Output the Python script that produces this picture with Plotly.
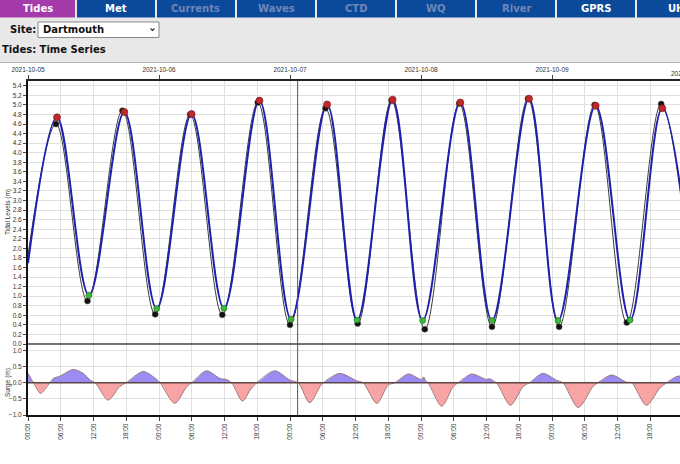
import plotly.graph_objects as go

W, H = 680, 464

# observed tide (blue) - start point, alternating high/low water, point past the edge
obs_time = ["2021-10-05 00:00", "2021-10-05 05:19", "2021-10-05 11:10", "2021-10-05 17:39",
            "2021-10-05 23:34", "2021-10-06 05:58", "2021-10-06 11:54", "2021-10-06 18:24",
            "2021-10-07 00:12", "2021-10-07 06:48", "2021-10-07 12:18", "2021-10-07 18:48",
            "2021-10-08 00:18", "2021-10-08 07:12", "2021-10-08 13:00", "2021-10-08 19:48",
            "2021-10-09 01:06", "2021-10-09 08:00", "2021-10-09 14:18", "2021-10-09 20:12",
            "2021-10-10 02:30"]
obs_level = [1.69, 4.74, 1.02, 4.85, 0.74, 4.81, 0.75, 5.09, 0.52, 5.01, 0.50,
             5.11, 0.49, 5.05, 0.49, 5.13, 0.49, 4.98, 0.50, 4.93, 0.50]

# predicted tide (black)
pred_time = ["2021-10-05 00:00", "2021-10-05 05:08", "2021-10-05 10:54", "2021-10-05 17:18",
             "2021-10-05 23:18", "2021-10-06 05:42", "2021-10-06 11:36", "2021-10-06 18:06",
             "2021-10-07 00:00", "2021-10-07 06:30", "2021-10-07 12:24", "2021-10-07 18:36",
             "2021-10-08 00:42", "2021-10-08 07:00", "2021-10-08 13:00", "2021-10-08 19:36",
             "2021-10-09 01:18", "2021-10-09 07:48", "2021-10-09 13:42", "2021-10-09 20:00",
             "2021-10-10 02:18"]
pred_level = [1.85, 4.60, 0.90, 4.88, 0.62, 4.80, 0.61, 5.05, 0.40, 4.93, 0.43,
              5.09, 0.31, 5.03, 0.36, 5.13, 0.36, 5.00, 0.45, 5.02, 0.40]

# surge (observed - predicted)
surge_time = ["2021-10-05 00:00", "2021-10-05 00:30", "2021-10-05 01:00", "2021-10-05 02:18",
              "2021-10-05 04:00", "2021-10-05 04:36", "2021-10-05 05:54", "2021-10-05 08:18",
              "2021-10-05 10:06", "2021-10-05 11:24", "2021-10-05 12:18", "2021-10-05 14:42",
              "2021-10-05 16:48", "2021-10-05 18:00", "2021-10-05 21:06", "2021-10-05 23:36",
              "2021-10-06 00:12", "2021-10-06 02:54", "2021-10-06 05:06", "2021-10-06 06:00",
              "2021-10-06 08:42", "2021-10-06 11:12", "2021-10-06 12:24", "2021-10-06 13:18",
              "2021-10-06 15:18", "2021-10-06 16:42", "2021-10-06 17:54", "2021-10-06 21:12",
              "2021-10-07 00:00", "2021-10-07 01:30", "2021-10-07 03:36", "2021-10-07 05:30",
              "2021-10-07 06:06", "2021-10-07 09:06", "2021-10-07 12:12", "2021-10-07 13:24",
              "2021-10-07 15:54", "2021-10-07 18:00", "2021-10-07 19:12", "2021-10-07 21:42",
              "2021-10-08 00:06", "2021-10-08 00:30", "2021-10-08 00:48", "2021-10-08 01:18",
              "2021-10-08 03:48", "2021-10-08 05:54", "2021-10-08 06:48", "2021-10-08 09:18",
              "2021-10-08 12:00", "2021-10-08 12:30", "2021-10-08 13:48", "2021-10-08 16:24",
              "2021-10-08 18:42", "2021-10-08 19:54", "2021-10-08 22:18", "2021-10-09 00:48",
              "2021-10-09 02:00", "2021-10-09 04:48", "2021-10-09 07:30", "2021-10-09 08:24",
              "2021-10-09 10:54", "2021-10-09 13:36", "2021-10-09 14:36", "2021-10-09 17:18",
              "2021-10-09 19:42", "2021-10-09 21:00", "2021-10-09 22:48", "2021-10-10 00:00"]
surge_value = [0.29, 0.15, 0.0, -0.33, 0.0, 0.13, 0.21, 0.41, 0.29, 0.08, 0.0, -0.54,
               -0.12, 0.0, 0.35, 0.10, 0.0, -0.64, -0.12, 0.0, 0.37, 0.13, 0.10, 0.0,
               -0.57, -0.23, 0.0, 0.37, 0.08, 0.0, -0.62, -0.12, 0.0, 0.29, 0.06, 0.0,
               -0.64, -0.07, 0.0, 0.27, 0.10, 0.18, 0.08, 0.0, -0.73, -0.12, 0.0, 0.27,
               0.10, 0.12, 0.0, -0.70, -0.12, 0.0, 0.29, 0.08, 0.0, -0.77, -0.12, 0.0,
               0.24, 0.02, 0.0, -0.70, -0.18, 0.0, 0.19, 0.22]

tabs = ["Tides", "Met", "Currents", "Waves", "CTD", "WQ", "River", "GPRS", "UH"]
tab_enabled = [True, True, False, False, False, False, False, True, True]

x_start, x_end = "2021-10-05 00:00", "2021-10-09 23:27"
now_time = "2021-10-07 01:24"


def px_x(p):
    return p / W


def px_y(p):
    return 1 - p / H


def label(x, y, text, font, xanchor="center", angle=0):
    # pixel positioned text, anchors set explicitly so plotly doesn't guess
    return dict(xref="paper", yref="paper", x=px_x(x), y=px_y(y), text=text, showarrow=False,
                xanchor=xanchor, yanchor="middle", textangle=angle, font=font)


AX_FONT = dict(family="Liberation Sans", size=6.5, color="#333")
HEAD = dict(family="DejaVu Sans", size=10, color="#111")

fig = go.Figure()

# surge panel
surge_pos = [max(v, 0) for v in surge_value]
surge_neg = [min(v, 0) for v in surge_value]
fig.add_trace(go.Scatter(x=surge_time, y=surge_pos, xaxis="x2", yaxis="y2", mode="lines",
                         line=dict(width=0, shape="spline", smoothing=0.8),
                         fill="tozeroy", fillcolor="#9b8cf3"))
fig.add_trace(go.Scatter(x=surge_time, y=surge_neg, xaxis="x2", yaxis="y2", mode="lines",
                         line=dict(width=0, shape="spline", smoothing=0.8),
                         fill="tozeroy", fillcolor="#f8a4a4"))
fig.add_trace(go.Scatter(x=surge_time, y=surge_value, xaxis="x2", yaxis="y2", mode="lines",
                         line=dict(width=0.8, color="#8a6464", shape="spline", smoothing=0.8)))

# tide panel
fig.add_trace(go.Scatter(x=pred_time, y=pred_level, mode="lines",
                         line=dict(width=1, color="#3c3c3c", shape="spline", smoothing=1.0)))
fig.add_trace(go.Scatter(x=obs_time, y=obs_level, mode="lines",
                         line=dict(width=2, color="#1f1fb0", shape="spline", smoothing=1.0)))

fig.add_trace(go.Scatter(x=pred_time[1:-1], y=pred_level[1:-1], mode="markers",
                         marker=dict(size=6, color="#111", line=dict(width=0.5, color="#555"))))
fig.add_trace(go.Scatter(x=obs_time[1:-1:2], y=obs_level[1:-1:2], mode="markers",
                         marker=dict(size=7, color="#c0282c", line=dict(width=0.6, color="#6a1010"))))
fig.add_trace(go.Scatter(x=obs_time[2:-1:2], y=obs_level[2:-1:2], mode="markers",
                         marker=dict(size=6, color="#3cb83c", line=dict(width=0.6, color="#1a6a1a"))))

shapes = []
annotations = []

# page background areas
shapes.append(dict(type="rect", xref="paper", yref="paper", x0=0, x1=1, y0=0, y1=px_y(63),
                   fillcolor="white", line_width=0, layer="below"))
shapes.append(dict(type="line", xref="paper", yref="paper", x0=0, x1=1, y0=px_y(62.5), y1=px_y(62.5),
                   line=dict(color="#b4b4b4", width=1.2)))

# tab bar
for i, name in enumerate(tabs):
    left = i * 80 - (3 if i > 0 else 0)
    right = left + 78 if i > 0 else 75
    colour = "#a53aab" if i == 0 else "#0b4a9b"
    shapes.append(dict(type="rect", xref="paper", yref="paper", x0=px_x(left), x1=px_x(right),
                       y0=px_y(17.5), y1=px_y(0), fillcolor=colour, line_width=0))
    tab_font = dict(HEAD, color="white" if tab_enabled[i] else "#6f87b8")
    annotations.append(label((left + right) / 2, 8.5, "<b>%s</b>" % name, tab_font))

# site selector
annotations.append(label(8, 29.5, "<b>Site:</b>", HEAD, xanchor="left"))
shapes.append(dict(type="rect", xref="paper", yref="paper", x0=px_x(38), x1=px_x(159),
                   y0=px_y(37.5), y1=px_y(22), fillcolor="white", line=dict(color="#8a8a8a", width=1)))
annotations.append(label(41, 29.5, "<b>Dartmouth</b>", HEAD, xanchor="left"))
shapes.append(dict(type="path", xref="paper", yref="paper",
                   path="M %f %f L %f %f L %f %f" % (px_x(150.5), px_y(28.5), px_x(152.5), px_y(30.5),
                                                    px_x(154.5), px_y(28.5)),
                   line=dict(color="#333", width=1.2)))

annotations.append(label(0, 49, "<b>Tides: Time Series</b>", HEAD, xanchor="left"))

# chart frame lines
shapes.append(dict(type="line", xref="paper", yref="paper", x0=px_x(28), x1=1, y0=px_y(344), y1=px_y(344),
                   line=dict(color="#444", width=1.3)))
shapes.append(dict(type="line", xref="x2", yref="y2", x0=x_start, x1=x_end, y0=0, y1=0,
                   line=dict(color="#5a4646", width=1.5)))
shapes.append(dict(type="line", xref="x", yref="paper", x0=now_time, x1=now_time,
                   y0=px_y(415), y1=px_y(81), line=dict(color="#555", width=1)))

# label for the next day, mostly off the edge
annotations.append(label(688, 73, "2021-10-10", AX_FONT))

annotations.append(label(8, 212, "Tidal Levels (m)", AX_FONT, angle=-90))
annotations.append(label(8, 383, "Surge (m)", AX_FONT, angle=-90))

tide_ticks = [round(i * 0.2, 1) for i in range(28)]
surge_ticks = [-1.0, -0.5, 0.0, 0.5, 1.0]

fig.update_layout(
    width=W, height=H,
    margin=dict(l=0, r=0, t=0, b=0),
    paper_bgcolor="#e8e8e8",
    plot_bgcolor="white",
    showlegend=False,
    shapes=shapes,
    annotations=annotations,
    xaxis=dict(domain=[px_x(28), 1], anchor="y", side="top", type="date", range=[x_start, x_end],
               dtick=86400000, tick0="2021-10-05", tickformat="%Y-%m-%d", ticks="outside",
               ticklen=4, tickcolor="#444", tickfont=AX_FONT, showline=True, linecolor="#222",
               linewidth=2, showgrid=True, gridcolor="#e0e0e0",
               minor=dict(dtick=21600000, showgrid=True, gridcolor="#e0e0e0"),
               zeroline=False, automargin=False),
    yaxis=dict(domain=[px_y(344), px_y(81)], anchor="x", range=[0, 5.5], tickvals=tide_ticks,
               tickformat=".1f", ticks="outside", ticklen=3, tickcolor="#444", tickfont=AX_FONT,
               showline=True, linecolor="#111", linewidth=2, gridcolor="#e0e0e0", zeroline=False,
               automargin=False),
    xaxis2=dict(domain=[px_x(28), 1], anchor="y2", type="date", range=[x_start, x_end],
                dtick=21600000, tick0="2021-10-05", tickformat="%H:%M", tickangle=-90, ticks="outside",
                ticklen=4, tickcolor="#444", tickfont=AX_FONT, showline=True, linecolor="#111",
                linewidth=2, gridcolor="#e0e0e0", zeroline=False, automargin=False),
    yaxis2=dict(domain=[px_y(415), px_y(344)], anchor="x2", range=[-1.0, 1.2], tickvals=surge_ticks,
                tickformat=".1f", ticks="outside", ticklen=3, tickcolor="#444", tickfont=AX_FONT,
                showline=True, linecolor="#111", linewidth=2, gridcolor="#e0e0e0", zeroline=False,
                automargin=False),
)

fig.write_html("out.html", config={"displayModeBar": False},
               post_script="document.body.style.margin='0';")
